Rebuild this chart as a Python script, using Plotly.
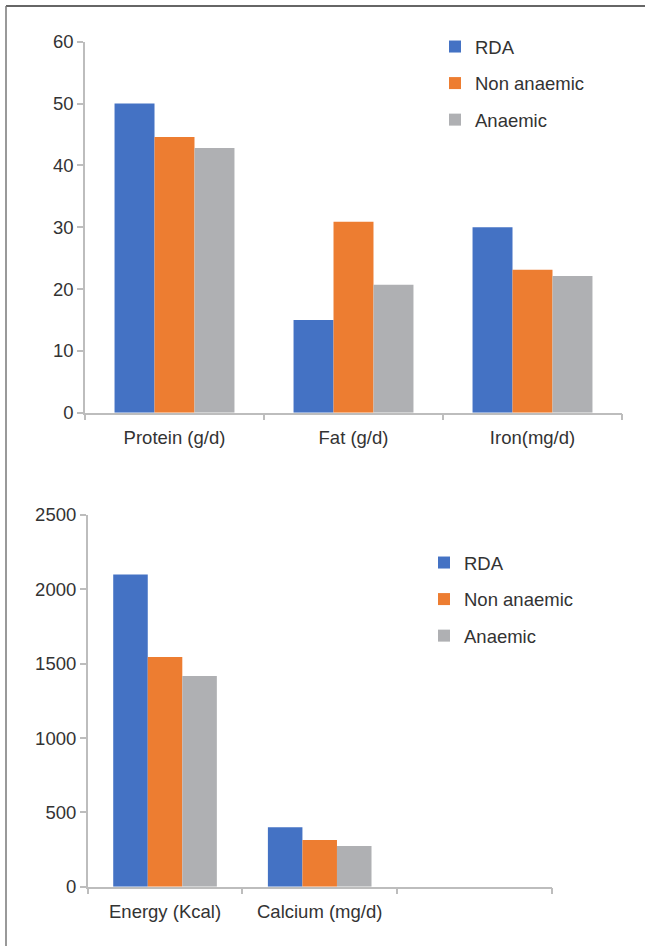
import plotly.graph_objects as go

# ---- data ----
top_categories = ["Protein (g/d)", "Fat (g/d)", "Iron(mg/d)"]
top_rda = [50, 15, 30]
top_non_anaemic = [44.6, 30.9, 23.1]
top_anaemic = [42.8, 20.7, 22.1]

bottom_categories = ["Energy (Kcal)", "Calcium (mg/d)", " "]
bottom_rda = [2100, 400, None]
bottom_non_anaemic = [1545, 314, None]
bottom_anaemic = [1417, 274, None]

series_names = ["RDA", "Non anaemic", "Anaemic"]
colors = ["#4472C4", "#ED7D31", "#AFB0B3"]

W, H = 645, 946
FONT = "Liberation Sans, Arial, sans-serif"
TXT = "#333333"
AXC = "#BDBDBD"

def px(x):
    return x / W

def py(y):
    return 1 - y / H

fig = go.Figure()

for name, vals, col in zip(series_names, [top_rda, top_non_anaemic, top_anaemic], colors):
    fig.add_trace(go.Bar(x=top_categories, y=vals, name=name, marker_color=col,
                         marker_line_width=0, xaxis="x", yaxis="y",
                         legend="legend", legendgroup="t" + name))
for name, vals, col in zip(series_names, [bottom_rda, bottom_non_anaemic, bottom_anaemic], colors):
    fig.add_trace(go.Bar(x=bottom_categories, y=vals, name=name, marker_color=col,
                         marker_line_width=0, xaxis="x2", yaxis="y2",
                         legend="legend2", legendgroup="b" + name))

axis_common = dict(showgrid=False, zeroline=False, showline=True, linecolor=AXC,
                   linewidth=1.5, ticks="outside", tickcolor=AXC, tickwidth=1.5,
                   ticklen=6, tickfont=dict(family=FONT, size=18.5, color=TXT),
                   automargin=False, fixedrange=True)

fig.update_layout(
    width=W, height=H,
    margin=dict(l=0, r=0, t=0, b=0),
    paper_bgcolor="white", plot_bgcolor="white",
    font=dict(family=FONT, size=18.5, color=TXT),
    barmode="group", bargap=0.33, bargroupgap=0,
    xaxis=dict(domain=[px(85), px(622)], anchor="y", type="category",
               range=[-0.5, 2.5], tickson="boundaries", ticklabelstandoff=7,
               **axis_common),
    yaxis=dict(domain=[py(412.7), py(41.7)], anchor="x", range=[0, 60], dtick=10,
               **axis_common),
    xaxis2=dict(domain=[px(87.7), px(551.7)], anchor="y2", type="category",
                range=[-0.5, 2.5], tickson="boundaries", ticklabelstandoff=7,
                **axis_common),
    yaxis2=dict(domain=[py(886.7), py(515)], anchor="x2", range=[0, 2500], dtick=500,
                **axis_common),
    legend=dict(x=px(435), y=py(28), xanchor="left", yanchor="top",
                font=dict(family=FONT, size=18.5, color=TXT),
                tracegroupgap=9.5, bgcolor="rgba(0,0,0,0)"),
    legend2=dict(x=px(424), y=py(544), xanchor="left", yanchor="top",
                 font=dict(family=FONT, size=18.5, color=TXT),
                 tracegroupgap=9.5, bgcolor="rgba(0,0,0,0)"),
    showlegend=True,
    shapes=[
        dict(type="line", xref="paper", yref="paper", x0=px(6), x1=1, y0=py(6), y1=py(6),
             line=dict(color="#333333", width=1.5)),
        dict(type="line", xref="paper", yref="paper", x0=px(6), x1=px(6), y0=py(6), y1=0,
             line=dict(color="#777777", width=1.5)),
    ],
)

fig.write_html("out.html", config={"displayModeBar": False},
               post_script="document.body.style.margin='0';document.body.style.overflow='hidden';")
